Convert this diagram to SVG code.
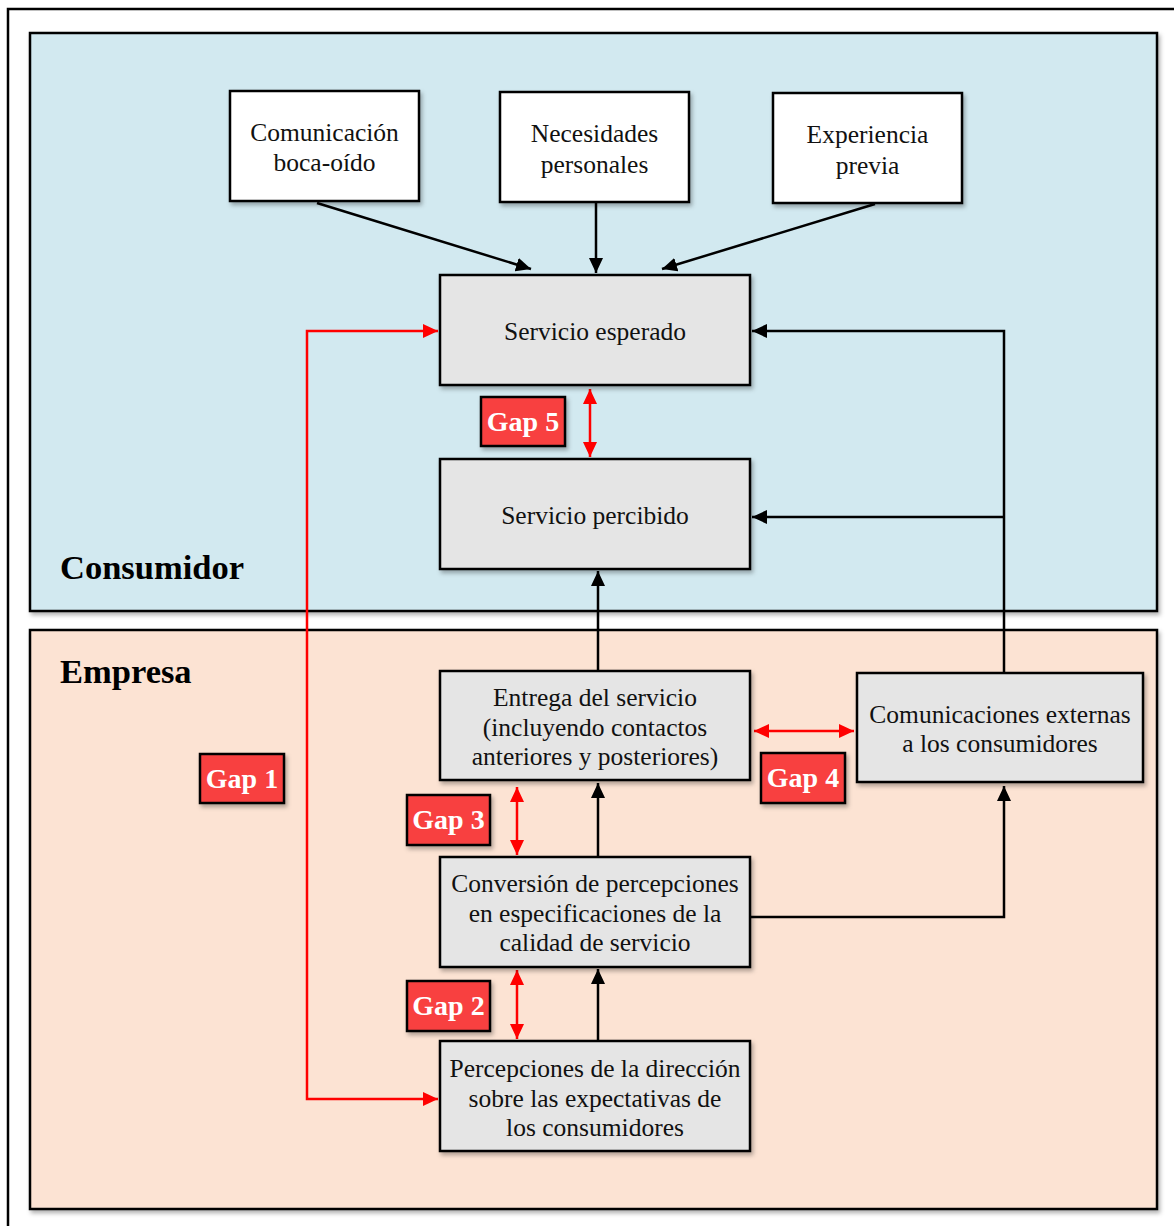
<svg xmlns="http://www.w3.org/2000/svg" width="1174" height="1226" viewBox="0 0 1174 1226">
  <defs>
    <filter id="shadow" x="-10%" y="-10%" width="125%" height="130%">
      <feDropShadow dx="2" dy="3" stdDeviation="2" flood-color="#000" flood-opacity="0.3"/>
    </filter>
    <marker id="ah" viewBox="0 0 15 14" refX="15" refY="7" markerWidth="15" markerHeight="14" markerUnits="userSpaceOnUse" orient="auto">
      <path d="M0,0 L15,7 L0,14 Z" fill="#000"/>
    </marker>
    <marker id="ahr" viewBox="0 0 15 14" refX="15" refY="7" markerWidth="15" markerHeight="14" markerUnits="userSpaceOnUse" orient="auto-start-reverse">
      <path d="M0,0 L15,7 L0,14 Z" fill="#f00"/>
    </marker>
    <style>
      .panel { stroke: #000; stroke-width: 2.5; filter: url(#shadow); }
      .box { stroke: #000; stroke-width: 2.5; filter: url(#shadow); }
      .white { fill: #fff; }
      .grey { fill: #e5e5e5; }
      .gap { fill: #f84141; stroke: #000; stroke-width: 2.5; filter: url(#shadow); }
      .txt { font-family: "Liberation Serif", "Times New Roman", serif; font-size: 25.5px; fill: #111; text-anchor: middle; }
      .gtxt { font-family: "Liberation Serif", "Times New Roman", serif; font-size: 28px; font-weight: bold; fill: #fff; text-anchor: middle; }
      .title { font-family: "Liberation Serif", "Times New Roman", serif; font-size: 34.5px; font-weight: bold; fill: #000; }
      .k { fill: none; stroke: #000; stroke-width: 2.5; }
      .r { fill: none; stroke: #f00; stroke-width: 2.5; }
    </style>
  </defs>

  <rect width="1174" height="1226" fill="#fff"/>
  <!-- outer frame -->
  <rect x="8" y="9" width="1180" height="1240" fill="none" stroke="#000" stroke-width="2.5"/>

  <!-- panels -->
  <g id="consumidor">
    <rect class="panel" x="30" y="33" width="1127" height="578" fill="#d2e9f0"/>
    <text class="title" x="60" y="579">Consumidor</text>
  </g>
  <g id="empresa">
    <rect class="panel" x="30" y="630" width="1127" height="579" fill="#fce3d3"/>
    <text class="title" x="60" y="683">Empresa</text>
  </g>

  <!-- connectors -->
  <g id="connectors">
    <line class="k" x1="317" y1="203" x2="531" y2="269" marker-end="url(#ah)"/>
    <line class="k" x1="596" y1="203" x2="596" y2="273" marker-end="url(#ah)"/>
    <line class="k" x1="875" y1="204" x2="662" y2="269" marker-end="url(#ah)"/>
    <polyline class="k" points="1004,673 1004,331 752,331" marker-end="url(#ah)"/>
    <polyline class="k" points="1004,517 752,517" marker-end="url(#ah)"/>
    <line class="k" x1="598" y1="671" x2="598" y2="571" marker-end="url(#ah)"/>
    <line class="k" x1="598" y1="857" x2="598" y2="783" marker-end="url(#ah)"/>
    <polyline class="k" points="750,917 1004,917 1004,786" marker-end="url(#ah)"/>
    <line class="k" x1="598" y1="1041" x2="598" y2="969" marker-end="url(#ah)"/>

    <polyline class="r" points="438,331 307,331 307,1099 438,1099" marker-start="url(#ahr)" marker-end="url(#ahr)"/>
    <line class="r" x1="590" y1="389" x2="590" y2="457" marker-start="url(#ahr)" marker-end="url(#ahr)"/>
    <line class="r" x1="754" y1="731" x2="854" y2="731" marker-start="url(#ahr)" marker-end="url(#ahr)"/>
    <line class="r" x1="517" y1="787" x2="517" y2="855" marker-start="url(#ahr)" marker-end="url(#ahr)"/>
    <line class="r" x1="517" y1="970" x2="517" y2="1039" marker-start="url(#ahr)" marker-end="url(#ahr)"/>
  </g>

  <!-- nodes -->
  <g id="boca-oido">
    <rect class="box white" x="230" y="91" width="189" height="110"/>
    <text class="txt" x="324.5" y="141">Comunicación</text>
    <text class="txt" x="324.5" y="171">boca-oído</text>
  </g>
  <g id="necesidades">
    <rect class="box white" x="500" y="92" width="189" height="110"/>
    <text class="txt" x="594.5" y="142">Necesidades</text>
    <text class="txt" x="594.5" y="173">personales</text>
  </g>
  <g id="experiencia">
    <rect class="box white" x="773" y="93" width="189" height="110"/>
    <text class="txt" x="867.5" y="143">Experiencia</text>
    <text class="txt" x="867.5" y="174">previa</text>
  </g>
  <g id="servicio-esperado">
    <rect class="box grey" x="440" y="275" width="310" height="110"/>
    <text class="txt" x="595" y="340">Servicio esperado</text>
  </g>
  <g id="servicio-percibido">
    <rect class="box grey" x="440" y="459" width="310" height="110"/>
    <text class="txt" x="595" y="524">Servicio percibido</text>
  </g>
  <g id="entrega">
    <rect class="box grey" x="440" y="671" width="310" height="109"/>
    <text class="txt" x="595" y="706">Entrega del servicio</text>
    <text class="txt" x="595" y="736">(incluyendo contactos</text>
    <text class="txt" x="595" y="765">anteriores y posteriores)</text>
  </g>
  <g id="comunicaciones-externas">
    <rect class="box grey" x="857" y="673" width="286" height="109"/>
    <text class="txt" x="1000" y="723">Comunicaciones externas</text>
    <text class="txt" x="1000" y="752">a los consumidores</text>
  </g>
  <g id="conversion">
    <rect class="box grey" x="440" y="857" width="310" height="110"/>
    <text class="txt" x="595" y="892">Conversión de percepciones</text>
    <text class="txt" x="595" y="922">en especificaciones de la</text>
    <text class="txt" x="595" y="951">calidad de servicio</text>
  </g>
  <g id="percepciones">
    <rect class="box grey" x="440" y="1041" width="310" height="110"/>
    <text class="txt" x="595" y="1077">Percepciones de la dirección</text>
    <text class="txt" x="595" y="1107">sobre las expectativas de</text>
    <text class="txt" x="595" y="1136">los consumidores</text>
  </g>

  <!-- gap labels -->
  <g id="gap5">
    <rect class="gap" x="481" y="397" width="84" height="49"/>
    <text class="gtxt" x="523" y="431">Gap 5</text>
  </g>
  <g id="gap1">
    <rect class="gap" x="200" y="754" width="84" height="49"/>
    <text class="gtxt" x="242" y="788">Gap 1</text>
  </g>
  <g id="gap3">
    <rect class="gap" x="407" y="795" width="83" height="50"/>
    <text class="gtxt" x="448.5" y="829">Gap 3</text>
  </g>
  <g id="gap4">
    <rect class="gap" x="761" y="753" width="84" height="50"/>
    <text class="gtxt" x="803" y="787">Gap 4</text>
  </g>
  <g id="gap2">
    <rect class="gap" x="407" y="981" width="83" height="50"/>
    <text class="gtxt" x="448.5" y="1015">Gap 2</text>
  </g>
</svg>
